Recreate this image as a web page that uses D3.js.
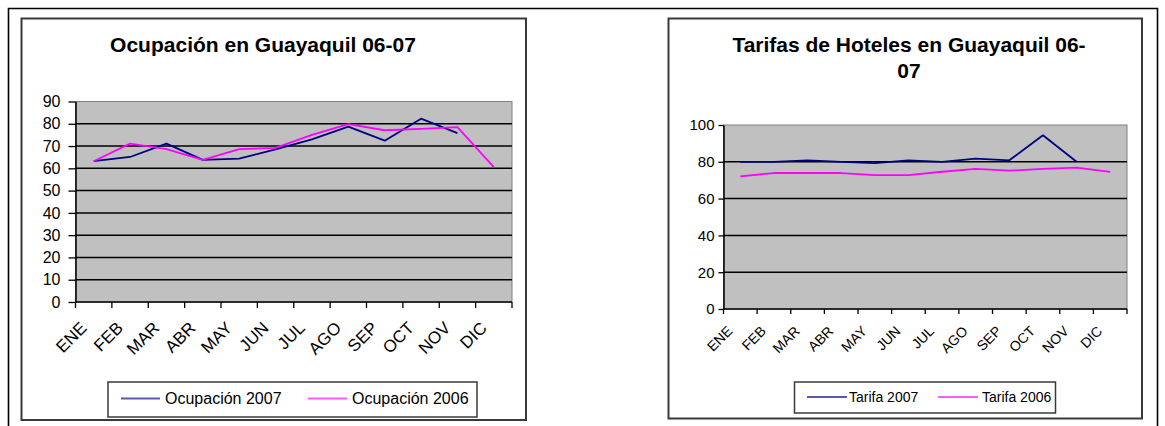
<!DOCTYPE html>
<html>
<head>
<meta charset="utf-8">
<script src="https://cdn.jsdelivr.net/npm/d3@7"></script>
<style>
  html, body { margin: 0; padding: 0; background: #fff; }
  svg { display: block; font-family: "Liberation Sans", Arial, sans-serif; }
</style>
</head>
<body>
<svg id="chart" width="1165" height="426"></svg>
<script>
// Months (Spanish abbreviations)
const months = ["ENE", "FEB", "MAR", "ABR", "MAY", "JUN", "JUL", "AGO", "SEP", "OCT", "NOV", "DIC"];

// Hotel occupancy in Guayaquil (%)
const ocupacion2007 = [63.2, 65.1, 71.1, 63.8, 64.4, 68.5, 73.0, 78.7, 72.4, 82.3, 75.8, null];
const ocupacion2006 = [63.2, 71.1, 68.6, 63.8, 68.6, 69.2, 75.0, 79.8, 77.1, 77.7, 78.5, 60.5];
const ocupacionTicks = [0, 10, 20, 30, 40, 50, 60, 70, 80, 90];

// Hotel rates in Guayaquil (USD)
const tarifa2007 = [80.0, 80.0, 80.8, 80.0, 79.3, 80.8, 80.0, 81.7, 80.8, 94.4, 80.0, null];
const tarifa2006 = [72.1, 73.9, 73.9, 73.9, 72.8, 72.8, 74.6, 76.1, 75.2, 76.1, 76.8, 74.5];
const tarifaTicks = [0, 20, 40, 60, 80, 100];

const NAVY = "#000080";
const MAGENTA = "#ff00ff";

const svg = d3.select("#chart");

// Page frame
svg.append("path")
  .attr("d", "M8.5,440 V8.5 H1157.5 V440")
  .attr("fill", "none").attr("stroke", "#000").attr("stroke-width", 1.6);

function drawChart(cfg) {
  const g = svg.append("g");

  // Chart box
  g.append("rect")
    .attr("x", cfg.box[0]).attr("y", cfg.box[1])
    .attr("width", cfg.box[2] - cfg.box[0]).attr("height", cfg.box[3] - cfg.box[1])
    .attr("fill", "#fff").attr("stroke", "#3a3a3a").attr("stroke-width", 2);

  // Title
  const title = g.append("text")
    .attr("text-anchor", "middle")
    .attr("font-weight", "bold")
    .attr("font-size", cfg.titleSize)
    .attr("fill", "#000");
  cfg.title.forEach((line, i) => {
    title.append("tspan")
      .attr("x", cfg.titleX)
      .attr("y", cfg.titleY + i * cfg.titleLead)
      .text(line);
  });

  const x = d3.scaleBand().domain(months).range([cfg.plot[0], cfg.plot[2]]).padding(0);
  const y = d3.scaleLinear().domain([0, d3.max(cfg.ticks)]).range([cfg.plot[3], cfg.plot[1]]);

  // Plot area
  g.append("rect")
    .attr("x", cfg.plot[0]).attr("y", cfg.plot[1])
    .attr("width", cfg.plot[2] - cfg.plot[0]).attr("height", cfg.plot[3] - cfg.plot[1])
    .attr("fill", "#c0c0c0").attr("stroke", "#808080").attr("stroke-width", 1);

  // Gridlines
  g.append("g").selectAll("line")
    .data(cfg.ticks.filter(d => d > 0 && d < d3.max(cfg.ticks)))
    .join("line")
    .attr("x1", cfg.plot[0]).attr("x2", cfg.plot[2])
    .attr("y1", d => y(d)).attr("y2", d => y(d))
    .attr("stroke", "#000").attr("stroke-width", 1.5);

  // Y axis
  const yAxis = g.append("g")
    .attr("transform", `translate(${cfg.plot[0]},0)`)
    .call(d3.axisLeft(y).tickValues(cfg.ticks).tickSize(cfg.yTick).tickPadding(cfg.yPad).tickSizeOuter(0));
  yAxis.select(".domain").attr("stroke", "#000").attr("stroke-width", 1.5);
  yAxis.selectAll(".tick line").attr("stroke", "#000").attr("stroke-width", 1.3);
  yAxis.selectAll(".tick text")
    .attr("font-size", cfg.tickSize).attr("fill", "#000")
    .attr("font-family", "'Liberation Sans', Arial, sans-serif");

  // X axis line and boundary ticks
  g.append("line")
    .attr("x1", cfg.plot[0]).attr("x2", cfg.plot[2])
    .attr("y1", y(0)).attr("y2", y(0))
    .attr("stroke", "#000").attr("stroke-width", 1.5);
  const bounds = months.map(m => x(m)).concat([x.range()[1]]);
  g.append("g").selectAll("line")
    .data(bounds)
    .join("line")
    .attr("x1", d => d).attr("x2", d => d)
    .attr("y1", y(0)).attr("y2", y(0) + cfg.xTick)
    .attr("stroke", "#000").attr("stroke-width", 1.3);

  // Rotated month labels
  g.append("g").selectAll("text")
    .data(months)
    .join("text")
    .attr("text-anchor", "end")
    .attr("font-size", cfg.xLabelSize)
    .attr("fill", "#000")
    .attr("transform", d => {
      const px = x(d) + x.bandwidth() / 2 + cfg.xLabelDx;
      const py = y(0) + cfg.xLabelDy;
      return `translate(${px},${py}) rotate(-45)`;
    })
    .text(d => d);

  // Series lines
  const line = d3.line()
    .defined(d => d.v != null)
    .x(d => x(d.m) + x.bandwidth() / 2)
    .y(d => y(d.v));
  cfg.series.forEach(s => {
    g.append("path")
      .datum(months.map((m, i) => ({ m, v: s.values[i] })))
      .attr("fill", "none")
      .attr("stroke", s.color)
      .attr("stroke-width", 1.8)
      .attr("stroke-linejoin", "round")
      .attr("d", line);
  });

  // Legend
  const L = cfg.legend;
  g.append("rect")
    .attr("x", L.box[0]).attr("y", L.box[1])
    .attr("width", L.box[2] - L.box[0]).attr("height", L.box[3] - L.box[1])
    .attr("fill", "#fff").attr("stroke", "#3a3a3a").attr("stroke-width", 1.5);
  cfg.series.forEach((s, i) => {
    const it = L.items[i];
    g.append("line")
      .attr("x1", it[0]).attr("x2", it[1])
      .attr("y1", L.lineY).attr("y2", L.lineY)
      .attr("stroke", s.color).attr("stroke-width", 1.8).attr("stroke-opacity", 0.65);
    g.append("text")
      .attr("x", it[2]).attr("y", L.textY)
      .attr("font-size", L.size)
      .attr("fill", "#000")
      .text(s.name);
  });
}

drawChart({
  box: [21.5, 18.5, 526, 420],
  title: ["Ocupación en Guayaquil 06-07"],
  titleX: 263, titleY: 52, titleLead: 26, titleSize: 21,
  plot: [75.5, 101.5, 512, 302],
  ticks: ocupacionTicks,
  tickSize: 16, yTick: 7, yPad: 8,
  xTick: 6, xLabelSize: 17, xLabelDx: -6, xLabelDy: 27,
  series: [
    { name: "Ocupación 2007", values: ocupacion2007, color: NAVY },
    { name: "Ocupación 2006", values: ocupacion2006, color: MAGENTA }
  ],
  legend: {
    box: [108, 382, 477, 417],
    lineY: 398.5, textY: 404, size: 16,
    items: [[121, 160, 165], [308, 347, 352]]
  }
});

drawChart({
  box: [668.5, 18.5, 1142, 418.5],
  title: ["Tarifas de Hoteles en Guayaquil 06-", "07"],
  titleX: 909, titleY: 52, titleLead: 26, titleSize: 21,
  plot: [723.5, 125, 1127, 309],
  ticks: tarifaTicks,
  tickSize: 15, yTick: 5, yPad: 4,
  xTick: 5, xLabelSize: 14, xLabelDx: -7, xLabelDy: 23,
  series: [
    { name: "Tarifa 2007", values: tarifa2007, color: NAVY },
    { name: "Tarifa 2006", values: tarifa2006, color: MAGENTA }
  ],
  legend: {
    box: [794.5, 382, 1055.5, 413],
    lineY: 397, textY: 402, size: 14,
    items: [[807, 847, 849], [938, 978, 982]]
  }
});
</script>
</body>
</html>
